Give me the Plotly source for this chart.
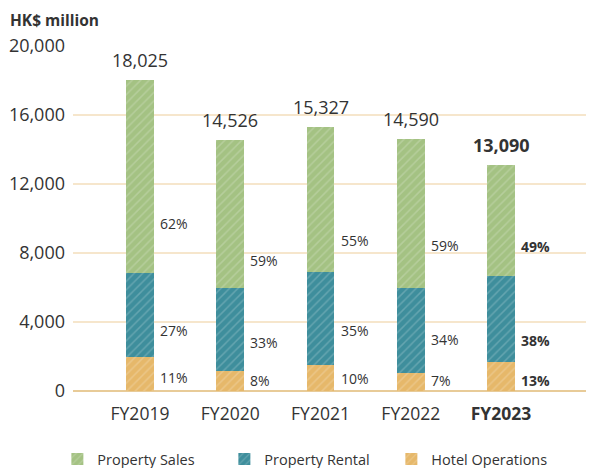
import plotly.graph_objects as go

# data
YEARS = ["FY2019", "FY2020", "FY2021", "FY2022", "FY2023"]
TOTALS = [18025, 14526, 15327, 14590, 13090]
SALES_PCT = [62, 59, 55, 59, 49]
RENTAL_PCT = [27, 33, 35, 34, 38]
HOTEL_PCT = [11, 8, 10, 7, 13]
TICK_VALS = [0, 4000, 8000, 12000, 16000, 20000]

# label anchors (HK$ million)
SALES_LABEL_Y = [9700, 7550, 8700, 8450, 8400]
RENTAL_LABEL_Y = [3500, 2800, 3500, 3000, 2950]
HOTEL_LABEL_Y = [800, 600, 750, 600, 600]

COLORS = {
    "sales": "#a4c283",
    "rental": "#3e8e9c",
    "hotel": "#e6b86a",
    "grid": "#f6e6cc",
    "zero": "#e8cb98",
    "text": "#333333",
}
FONT = "Open Sans, sans-serif"

hotel = [t * p / 100 for t, p in zip(TOTALS, HOTEL_PCT)]
rental = [t * p / 100 for t, p in zip(TOTALS, RENTAL_PCT)]
sales = [t - h - r for t, h, r in zip(TOTALS, hotel, rental)]

x_idx = list(range(len(YEARS)))
BAR_W = 0.31

fig = go.Figure()
for name, vals, key in [
    ("Hotel Operations", hotel, "hotel"),
    ("Property Rental", rental, "rental"),
    ("Property Sales", sales, "sales"),
]:
    fig.add_trace(go.Bar(
        x=x_idx, y=vals, name=name, width=BAR_W,
        marker=dict(
            color=COLORS[key], line=dict(width=0),
            pattern=dict(shape="/", fgcolor="rgba(255,255,255,0.4)",
                         size=6, solidity=0.25, fillmode="overlay"),
        ),
        hoverinfo="skip",
    ))

annotations = []
last = len(YEARS) - 1
for i, tot in enumerate(TOTALS):
    bold = i == last
    annotations.append(dict(
        x=i, y=tot, xref="x", yref="y", yanchor="bottom", yshift=6,
        text=(f"<b>{tot:,}</b>" if bold else f"{tot:,}"),
        showarrow=False, font=dict(size=18, color=COLORS["text"], family=FONT),
    ))
    for pct, ly in [(SALES_PCT[i], SALES_LABEL_Y[i]),
                    (RENTAL_PCT[i], RENTAL_LABEL_Y[i]),
                    (HOTEL_PCT[i], HOTEL_LABEL_Y[i])]:
        annotations.append(dict(
            x=i, y=ly, xref="x", yref="y", xanchor="left", xshift=18,
            text=(f"<b>{pct}%</b>" if bold else f"{pct}%"),
            showarrow=False, font=dict(size=14, color=COLORS["text"], family=FONT),
        ))

# "HK$ million" title, placed in paper coords (plot area 521 x 345 px)
annotations.append(dict(
    x=-65 / 521, y=(391 - 20) / 345, xref="paper", yref="paper",
    xanchor="left", yanchor="middle",
    text="<b>HK$ million</b>", showarrow=False,
    font=dict(size=15.5, color=COLORS["text"], family=FONT),
))

# page body has an 8px margin, so the figure is 8px smaller on each side
fig.update_layout(
    width=586, height=460,
    margin=dict(l=65, r=0, t=38, b=77, autoexpand=False),
    paper_bgcolor="white", plot_bgcolor="white",
    barmode="stack",
    font=dict(family=FONT, color=COLORS["text"]),
    showlegend=True,
    legend=dict(
        orientation="h", traceorder="reversed",
        x=-0.03, xanchor="left", y=-0.197, yanchor="middle",
        font=dict(size=14.5, color=COLORS["text"], family=FONT),
        entrywidth=122, entrywidthmode="pixels",
    ),
    annotations=annotations,
)

fig.update_xaxes(
    tickmode="array", tickvals=x_idx,
    ticktext=[f"<b>{y}</b>" if i == last else y for i, y in enumerate(YEARS)],
    range=[-0.742, 5.03], showgrid=False, zeroline=False, showline=False,
    tickfont=dict(size=17.5, color=COLORS["text"], family=FONT), ticks="",
    ticklabelstandoff=10,
)
fig.update_yaxes(
    range=[0, 20000], tickvals=TICK_VALS, tickformat=",",
    gridcolor=COLORS["grid"], gridwidth=1.5,
    zeroline=True, zerolinecolor=COLORS["zero"], zerolinewidth=1.5,
    tickfont=dict(size=18, color=COLORS["text"], family=FONT),
    ticklabelstandoff=7,
)

fig.write_html("out.html")
